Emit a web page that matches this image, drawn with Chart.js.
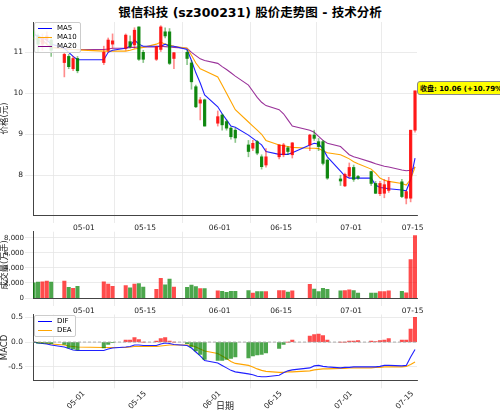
<!DOCTYPE html>
<html><head><meta charset="utf-8">
<script src="https://cdn.jsdelivr.net/npm/chart.js@4"></script>
<style>
body{margin:0;width:500px;height:414px;background:#fff;position:relative;overflow:hidden;font-family:"DejaVu Sans","Noto Sans CJK SC",sans-serif}
canvas{position:absolute;left:0}
.t{position:absolute;left:0;width:500px;top:2px;text-align:center;font-weight:bold;font-size:12.5px;color:#000}
.lg{position:absolute;background:rgba(255,255,255,0.85);border:1px solid #ccc;border-radius:2px;font-size:7px;padding:1px 3px;line-height:9px}
.lg span{display:inline-block;width:14px;height:0;border-top:1.4px solid;vertical-align:middle;margin-right:5px}
.ann{position:absolute;left:417px;top:81px;white-space:nowrap;background:#ffff00;border:1px solid #888;border-radius:3px;font-size:7px;font-weight:bold;padding:1px 2px}
</style></head><body>
<div class="t">银信科技 (sz300231) 股价走势图 - 技术分析</div>
<canvas id="c1" style="top:0" width="500" height="230"></canvas>
<canvas id="c2" style="top:226px" width="500" height="88"></canvas>
<canvas id="c3" style="top:308px" width="500" height="106"></canvas>
<div class="lg" style="left:34px;top:22px"><div><span style="border-color:#0000ff"></span>MA5</div><div><span style="border-color:#ffa500"></span>MA10</div><div><span style="border-color:#800080"></span>MA20</div></div>
<div class="lg" style="left:34px;top:315px"><div><span style="border-color:#0000ff"></span>DIF</div><div><span style="border-color:#ffa500"></span>DEA</div></div>
<div class="ann">收盘: 10.06 (+10.79%)</div>
<script>
const tickDays=[0,14,31,45,61,75];
const tickLabels=["05-01","05-15","06-01","06-15","07-01","07-15"];
const days=[-11.45,-10.45,-9.45,-8.45,-7.45,-4.45,-3.45,-2.45,-1.45,4.55,5.55,6.55,9.55,10.55,11.55,12.55,13.55,16.55,17.55,18.55,19.55,20.55,23.55,24.55,25.55,26.55,27.55,30.55,31.55,32.55,33.55,34.55,37.55,38.55,39.55,40.55,41.55,44.55,45.55,46.55,47.55,51.55,52.55,53.55,54.55,55.55,58.55,59.55,60.55,61.55,62.55,65.55,66.55,67.55,68.55,69.55,72.55,73.55,74.55,75.55];
const open=[11.5,11.4,11.2,11.3,11.3,10.75,10.9,10.6,10.85,10.75,11.05,11.2,11.1,11.26,11.18,11.62,11.0,10.83,11.07,11.5,11.5,10.85,11.0,10.74,10.16,9.76,9.84,9.27,9.47,9.31,9.15,9.1,8.74,8.66,8.82,8.45,8.25,8.45,8.5,8.67,8.5,8.74,8.98,8.82,8.82,8.37,7.91,7.74,7.98,8.19,7.97,8.09,7.8,7.55,7.56,7.63,7.84,7.44,7.44,9.1];
const high=[11.55,11.45,11.45,11.5,11.35,11.0,10.95,10.9,10.9,11.15,11.35,11.45,11.45,11.4,11.6,11.62,11.05,11.15,11.65,11.6,11.58,11.0,11.05,10.8,10.2,9.9,9.86,9.57,9.5,9.35,9.18,9.15,8.85,8.85,8.85,8.5,8.65,8.75,8.78,8.7,8.8,9.0,9.1,8.9,8.85,8.4,8.0,8.05,8.3,8.25,8.0,8.1,7.85,7.85,7.9,7.95,7.9,7.62,9.1,10.06];
const low=[11.3,11.0,11.05,11.2,10.9,10.4,10.6,10.55,10.5,10.7,11.0,11.1,11.05,11.1,11.1,10.8,10.75,10.8,11.02,11.35,10.7,10.6,10.7,10.1,9.65,9.35,9.2,9.2,9.1,9.1,8.88,8.8,8.45,8.6,8.5,8.15,8.2,8.4,8.45,8.5,8.42,8.6,8.85,8.6,8.25,7.9,7.75,7.72,7.95,7.85,7.9,7.75,7.55,7.5,7.45,7.58,7.45,7.3,7.35,9.05];
const close=[11.4,11.2,11.35,11.4,11.05,10.95,10.65,10.85,10.55,11.0,11.3,11.28,11.42,11.14,11.54,10.83,10.83,11.14,11.62,11.4,10.73,10.99,10.85,10.28,9.67,9.84,9.2,9.43,9.23,9.15,8.94,8.91,8.58,8.78,8.54,8.21,8.45,8.74,8.74,8.58,8.79,8.98,8.9,8.7,8.29,7.93,7.86,8.02,8.19,7.9,7.93,7.8,7.56,7.8,7.77,7.85,7.48,7.6,9.1,10.06];
const ma5=[11.45,11.4,11.35,11.3,11.2,11.1,11.0,10.9,10.82,10.82,11.0,11.05,11.1,11.15,11.3,11.2,11.15,11.15,11.15,11.2,11.15,11.15,11.07,10.8,10.5,10.25,9.96,9.67,9.5,9.35,9.2,9.17,8.98,8.9,8.82,8.74,8.58,8.51,8.51,8.51,8.55,8.74,8.78,8.76,8.65,8.45,8.1,7.98,7.93,7.93,7.93,7.93,7.76,7.7,7.69,7.67,7.64,7.62,7.89,8.42];
const ma10=[11.35,11.3,11.25,11.2,11.12,11.08,11.07,11.07,11.06,11.03,11.03,11.03,11.03,11.05,11.08,11.1,11.12,11.2,11.25,11.2,11.18,11.15,11.1,10.93,10.74,10.6,10.55,10.4,10.2,10.0,9.8,9.6,9.3,9.2,9.1,9.0,8.85,8.74,8.72,8.7,8.68,8.66,8.66,8.65,8.6,8.55,8.5,8.45,8.4,8.33,8.28,8.15,8.05,7.93,7.88,7.85,7.8,7.76,7.9,8.2];
const ma20=[11.45,11.38,11.3,11.2,11.12,11.1,11.08,11.07,11.07,11.07,11.08,11.1,11.1,11.12,11.12,11.13,11.13,11.13,11.15,11.14,11.13,11.12,11.1,11.0,10.92,10.84,10.8,10.73,10.65,10.58,10.5,10.42,10.2,10.05,9.9,9.78,9.7,9.6,9.5,9.35,9.2,9.1,9.05,8.95,8.85,8.78,8.7,8.6,8.5,8.45,8.42,8.32,8.28,8.25,8.22,8.2,8.13,8.11,8.12,8.2];
const volume=[2000,2100,2150,2250,2100,2250,1400,1300,1550,2150,1850,1550,1650,1350,1850,1900,1450,1150,2600,1750,2500,1450,1400,1700,1500,1250,1250,950,900,750,900,900,1000,650,850,850,850,1000,1000,800,950,1800,1200,850,1300,1150,950,1000,1100,1000,650,650,650,850,850,950,900,700,5100,8300];
const dif=[0,-0.02,-0.03,-0.04,-0.06,-0.1,-0.13,-0.16,-0.17,-0.17,-0.14,-0.12,-0.1,-0.09,-0.06,-0.06,-0.07,-0.07,-0.04,-0.02,-0.03,-0.05,-0.07,-0.12,-0.2,-0.28,-0.37,-0.42,-0.47,-0.52,-0.57,-0.6,-0.64,-0.66,-0.69,-0.7,-0.7,-0.67,-0.62,-0.58,-0.56,-0.52,-0.48,-0.47,-0.49,-0.5,-0.52,-0.51,-0.51,-0.5,-0.5,-0.5,-0.5,-0.49,-0.47,-0.47,-0.48,-0.47,-0.3,-0.15];
const dea=[0,-0.01,-0.02,-0.03,-0.04,-0.06,-0.08,-0.09,-0.1,-0.11,-0.11,-0.11,-0.11,-0.1,-0.09,-0.09,-0.09,-0.09,-0.08,-0.07,-0.06,-0.06,-0.06,-0.07,-0.1,-0.14,-0.18,-0.23,-0.28,-0.33,-0.39,-0.43,-0.47,-0.5,-0.54,-0.57,-0.59,-0.61,-0.61,-0.6,-0.6,-0.58,-0.56,-0.55,-0.54,-0.54,-0.53,-0.53,-0.52,-0.52,-0.52,-0.52,-0.51,-0.51,-0.5,-0.5,-0.5,-0.49,-0.45,-0.4];
const hist=[-0.01,-0.02,-0.02,-0.02,-0.03,-0.05,-0.12,-0.14,-0.16,-0.12,-0.05,-0.01,0.04,0.04,0.09,0.05,0.0,0.02,0.07,0.09,0.02,0.0,-0.03,-0.1,-0.18,-0.25,-0.35,-0.37,-0.37,-0.35,-0.33,-0.3,-0.32,-0.28,-0.26,-0.25,-0.22,-0.13,-0.05,0.0,0.04,0.12,0.15,0.16,0.13,0.04,0.0,0.0,0.02,0.02,0.03,0.02,0.01,0.03,0.04,0.07,0.04,0.04,0.26,0.5];

const F="'DejaVu Sans','Noto Sans CJK SC',sans-serif";
Chart.defaults.font.family=F;Chart.defaults.font.size=7.5;Chart.defaults.color='#222';
Chart.defaults.animation=false;
const RED='rgba(255,0,0,0.85)',GRN='rgba(0,128,0,0.9)',REDL='rgba(255,0,0,0.45)',GRNL='rgba(0,128,0,0.45)';
const up=close.map((c,i)=>c>=open[i]);
const grid={color:'#e6e6e6',lineWidth:0.8};
function xScale(show,rot,title){return{type:'linear',offset:false,min:-11.6,max:76.0,grid:grid,border:{color:'#444'},
 afterBuildTicks:s=>{s.ticks=tickDays.map(v=>({value:v}));},
 ticks:{display:show,maxRotation:rot,minRotation:rot,autoSkip:false,padding:1,callback:v=>tickLabels[tickDays.indexOf(v)]},
 title:title?{display:true,text:title,font:{size:9},padding:0}:{display:false}};}
function yScale(w,title,min,max,extra){return Object.assign({min:min,max:max,grid:grid,border:{color:'#444'},
 afterFit:s=>{s.width=w;},title:{display:true,text:title,font:{size:8.5},padding:0},ticks:{padding:2}},extra||{});}
const pts=a=>a.map((v,i)=>({x:days[i],y:v}));
function line(a,c,l){return{type:'line',label:l,data:pts(a),borderColor:c,borderWidth:1.1,pointRadius:0,tension:0};}

new Chart(document.getElementById('c1'),{data:{datasets:[
 {type:'bar',data:days.map((d,i)=>({x:d,y:[low[i],high[i]]})),backgroundColor:up.map(u=>u?REDL:GRNL),barThickness:1,grouped:false},
 {type:'bar',data:days.map((d,i)=>({x:d,y:[open[i],close[i]]})),backgroundColor:up.map(u=>u?RED:GRN),barThickness:2.6,grouped:false,minBarLength:1},
 line(ma5,'#2020ff','MA5'),line(ma10,'#ffa500','MA10'),line(ma20,'#9a339a','MA20')]},
 options:{responsive:false,layout:{padding:{left:0,right:83,top:22,bottom:0}},plugins:{legend:{display:false},tooltip:{enabled:false}},
 scales:{x:Object.assign(xScale(true,0),{afterFit:s=>{s.height=15;}}),y:yScale(33,'价格(元)',7.03,11.74,{afterBuildTicks:s=>{s.ticks=[8,9,10,11].map(v=>({value:v}));}})}}});

new Chart(document.getElementById('c2'),{data:{datasets:[
 {type:'bar',data:days.map((d,i)=>({x:d,y:volume[i]})),backgroundColor:up.map(u=>u?'rgba(255,0,0,0.7)':'rgba(0,128,0,0.7)'),barThickness:3.4}]},
 options:{responsive:false,layout:{padding:{left:0,right:83,top:5.7,bottom:0}},plugins:{legend:{display:false},tooltip:{enabled:false}},
 scales:{x:Object.assign(xScale(true,0),{afterFit:s=>{s.height=16;}}),y:yScale(33,'成交量(万手)',0,8800,{afterBuildTicks:s=>{s.ticks=[0,2000,4000,6000,8000].map(v=>({value:v}));},ticks:{padding:1,font:{size:7}}})}}});

const zero={id:'z',afterDatasetsDraw(c){const y=c.scales.y.getPixelForValue(0),a=c.chartArea,x=c.ctx;x.save();x.setLineDash([3,2]);x.strokeStyle='#999';x.lineWidth=0.8;x.beginPath();x.moveTo(a.left,y);x.lineTo(a.right,y);x.stroke();x.restore();}};
new Chart(document.getElementById('c3'),{plugins:[zero],data:{datasets:[
 {type:'bar',data:days.map((d,i)=>({x:d,y:hist[i]})),backgroundColor:hist.map(h=>h>=0?'rgba(255,0,0,0.7)':'rgba(0,128,0,0.7)'),barThickness:3.4},
 line(dif,'#2020ff','DIF'),line(dea,'#ffa500','DEA')]},
 options:{responsive:false,layout:{padding:{left:0,right:83,top:6.3,bottom:2}},plugins:{legend:{display:false},tooltip:{enabled:false}},
 scales:{x:Object.assign(xScale(true,45,'日期'),{afterFit:s=>{s.height=31.7;}}),y:yScale(33,'MACD',-0.77,0.555,{afterBuildTicks:s=>{s.ticks=[-0.5,0,0.5].map(v=>({value:v}));},ticks:{padding:2,callback:v=>v.toFixed(1)}})}}});
</script></body></html>
